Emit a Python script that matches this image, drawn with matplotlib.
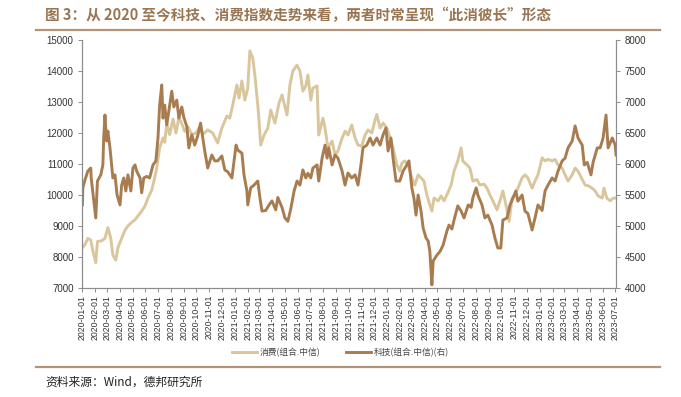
"""
Consumer vs tech index chart (CITIC style indices), 2020-01 to 2023-07.
Consumer is on the left axis, tech on the right axis.
"""
import matplotlib

matplotlib.use("Agg")
import matplotlib.dates as mdates
import matplotlib.pyplot as plt
import pandas as pd
from matplotlib.lines import Line2D

TITLE = "图 3：从 2020 至今科技、消费指数走势来看，两者时常呈现“此消彼长”形态"
SOURCE = "资料来源：Wind，德邦研究所"
CONSUMER_LABEL = "消费(组合.中信)"
TECH_LABEL = "科技(组合.中信)(右)"

LEFT_TICKS = [7000, 8000, 9000, 10000, 11000, 12000, 13000, 14000, 15000]
RIGHT_TICKS = [4000, 4500, 5000, 5500, 6000, 6500, 7000, 7500, 8000]

CONSUMER_DATES = [
    "2020-01-02", "2020-01-08", "2020-01-15", "2020-01-22", "2020-01-27", "2020-02-03",
    "2020-02-07", "2020-02-17", "2020-02-25", "2020-03-03", "2020-03-10", "2020-03-15",
    "2020-03-22", "2020-03-27", "2020-04-05", "2020-04-13", "2020-04-20", "2020-04-30",
    "2020-05-07", "2020-05-14", "2020-05-23", "2020-05-31", "2020-06-07", "2020-06-16",
    "2020-06-23", "2020-06-28", "2020-07-05", "2020-07-13", "2020-07-17", "2020-07-22",
    "2020-07-29", "2020-08-06", "2020-08-13", "2020-08-20", "2020-08-27", "2020-09-03",
    "2020-09-11", "2020-09-20", "2020-09-30", "2020-10-09", "2020-10-16", "2020-10-28",
    "2020-11-09", "2020-11-21", "2020-12-01", "2020-12-13", "2020-12-20", "2020-12-27",
    "2021-01-06", "2021-01-11", "2021-01-18", "2021-01-25", "2021-02-01", "2021-02-06",
    "2021-02-13", "2021-02-18", "2021-02-25", "2021-02-27", "2021-03-04", "2021-03-12",
    "2021-03-21", "2021-03-28", "2021-04-07", "2021-04-17", "2021-04-24", "2021-05-06",
    "2021-05-13", "2021-05-20", "2021-05-30", "2021-06-06", "2021-06-13", "2021-06-20",
    "2021-06-25", "2021-07-02", "2021-07-07", "2021-07-17", "2021-07-21", "2021-07-31",
    "2021-08-05", "2021-08-12", "2021-08-22", "2021-08-29", "2021-09-05", "2021-09-15",
    "2021-09-22", "2021-09-29", "2021-10-08", "2021-10-16", "2021-10-23", "2021-11-01",
    "2021-11-09", "2021-11-16", "2021-11-25", "2021-12-03", "2021-12-07", "2021-12-15",
    "2021-12-22", "2021-12-31", "2022-01-08", "2022-01-15", "2022-01-24", "2022-01-31",
    "2022-02-05", "2022-02-12", "2022-02-20", "2022-03-01", "2022-03-08", "2022-03-16",
    "2022-03-23", "2022-03-30", "2022-04-06", "2022-04-13", "2022-04-18", "2022-04-23",
    "2022-05-03", "2022-05-10", "2022-05-17", "2022-05-26", "2022-06-03", "2022-06-10",
    "2022-06-19", "2022-06-27", "2022-07-01", "2022-07-11", "2022-07-18", "2022-07-25",
    "2022-08-04", "2022-08-11", "2022-08-21", "2022-08-28", "2022-09-04", "2022-09-11",
    "2022-09-21", "2022-09-28", "2022-10-05", "2022-10-12", "2022-10-20", "2022-10-27",
    "2022-11-03", "2022-11-10", "2022-11-20", "2022-11-27", "2022-12-04", "2022-12-14",
    "2022-12-21", "2022-12-28", "2023-01-07", "2023-01-14", "2023-01-21", "2023-01-31",
    "2023-02-07", "2023-02-14", "2023-02-24", "2023-03-03", "2023-03-10", "2023-03-20",
    "2023-03-27", "2023-04-03", "2023-04-13", "2023-04-20", "2023-04-27", "2023-05-07",
    "2023-05-14", "2023-05-21", "2023-05-31", "2023-06-04", "2023-06-11", "2023-06-19",
    "2023-06-26", "2023-07-03",
]
CONSUMER_VALUES = [
    8300, 8400, 8600, 8550, 8200, 7820,
    8500, 8520, 8600, 8950, 8600, 8060,
    7900, 8300, 8600, 8870, 9000, 9130,
    9200, 9320, 9480, 9650, 9900, 10160,
    10550, 10870, 11520, 11840, 11700, 12300,
    11950, 12450, 12000, 12500, 12300, 12050,
    12200, 11950, 12000, 12200, 11950, 12100,
    12000, 11680, 12160, 12550, 12480, 12900,
    13550, 13130, 13680, 13060, 13450, 14650,
    14420, 13870, 12900, 12580, 11610, 11935,
    12160, 12740, 12320, 12970, 13230, 12580,
    13550, 14000, 14190, 14000, 13350, 13520,
    13870, 13060, 13450, 13520, 11935, 12480,
    12160, 11520, 11740, 11290, 11420, 11840,
    12060, 11935, 12260, 11840, 11610, 11580,
    11935, 12100, 12000, 12420, 12600, 12160,
    12320, 12160, 11840, 11520, 10970, 10770,
    11030, 11100, 10970, 10550, 10320, 10650,
    10550, 10450, 10000, 9680, 9480, 9900,
    9810, 9970, 9810, 10065, 10320, 10770,
    11100, 11520, 11100, 10970, 10870, 10450,
    10500, 10320, 10350, 10220, 10000, 9810,
    9520, 9810, 10130, 9700, 9150, 9900,
    10000, 10220, 10550, 10650, 10550, 10220,
    10450, 10650, 11200, 11100, 11150, 11100,
    11150, 10970, 10870, 10650, 10450, 10650,
    10870, 10770, 10500, 10320, 10300, 10220,
    10130, 9970, 9900, 10220, 9900, 9810,
    9900, 9900,
]

TECH_DATES = [
    "2020-01-02", "2020-01-03", "2020-01-08", "2020-01-15", "2020-01-22", "2020-01-23",
    "2020-02-03", "2020-02-07", "2020-02-15", "2020-02-20", "2020-02-22", "2020-02-25",
    "2020-02-29", "2020-03-03", "2020-03-08", "2020-03-12", "2020-03-15", "2020-03-20",
    "2020-03-25", "2020-04-01", "2020-04-05", "2020-04-10", "2020-04-15", "2020-04-20",
    "2020-04-27", "2020-05-02", "2020-05-07", "2020-05-11", "2020-05-19", "2020-05-23",
    "2020-05-28", "2020-06-04", "2020-06-11", "2020-06-19", "2020-06-26", "2020-07-01",
    "2020-07-05", "2020-07-10", "2020-07-13", "2020-07-17", "2020-07-22", "2020-07-29",
    "2020-08-03", "2020-08-08", "2020-08-15", "2020-08-20", "2020-08-27", "2020-09-01",
    "2020-09-08", "2020-09-13", "2020-09-20", "2020-09-27", "2020-10-04", "2020-10-11",
    "2020-10-16", "2020-10-21", "2020-10-28", "2020-11-07", "2020-11-14", "2020-11-21",
    "2020-12-01", "2020-12-08", "2020-12-15", "2020-12-25", "2021-01-04", "2021-01-08",
    "2021-01-18", "2021-01-23", "2021-01-30", "2021-02-01", "2021-02-08", "2021-02-16",
    "2021-02-25", "2021-03-02", "2021-03-07", "2021-03-16", "2021-03-24", "2021-03-31",
    "2021-04-09", "2021-04-14", "2021-04-24", "2021-05-01", "2021-05-08", "2021-05-15",
    "2021-05-23", "2021-05-30", "2021-06-06", "2021-06-13", "2021-06-20", "2021-06-25",
    "2021-07-02", "2021-07-07", "2021-07-17", "2021-07-21", "2021-07-29", "2021-08-05",
    "2021-08-10", "2021-08-14", "2021-08-22", "2021-08-29", "2021-09-05", "2021-09-15",
    "2021-09-22", "2021-09-29", "2021-10-08", "2021-10-16", "2021-10-23", "2021-10-30",
    "2021-11-04", "2021-11-13", "2021-11-21", "2021-11-28", "2021-12-07", "2021-12-15",
    "2021-12-22", "2021-12-29", "2022-01-03", "2022-01-10", "2022-01-15", "2022-01-22",
    "2022-01-31", "2022-02-08", "2022-02-17", "2022-02-22", "2022-03-01", "2022-03-06",
    "2022-03-11", "2022-03-16", "2022-03-23", "2022-03-28", "2022-04-04", "2022-04-09",
    "2022-04-13", "2022-04-18", "2022-04-21", "2022-04-30", "2022-05-08", "2022-05-15",
    "2022-05-24", "2022-05-29", "2022-06-05", "2022-06-10", "2022-06-19", "2022-06-27",
    "2022-07-04", "2022-07-14", "2022-07-21", "2022-07-25", "2022-08-02", "2022-08-06",
    "2022-08-16", "2022-08-23", "2022-08-30", "2022-09-09", "2022-09-16", "2022-09-23",
    "2022-09-30", "2022-10-05", "2022-10-15", "2022-10-22", "2022-10-29", "2022-11-05",
    "2022-11-10", "2022-11-20", "2022-11-27", "2022-12-04", "2022-12-14", "2022-12-21",
    "2022-12-28", "2023-01-07", "2023-01-14", "2023-01-21", "2023-01-31", "2023-02-07",
    "2023-02-14", "2023-02-24", "2023-03-03", "2023-03-10", "2023-03-20", "2023-03-27",
    "2023-04-03", "2023-04-13", "2023-04-18", "2023-04-25", "2023-05-04", "2023-05-09",
    "2023-05-19", "2023-05-26", "2023-06-02", "2023-06-09", "2023-06-14", "2023-06-24",
    "2023-07-01", "2023-07-03",
]
TECH_VALUES = [
    5340, 5615, 5740, 5885, 5935, 5775,
    5130, 5725, 5825, 5985, 6420, 6790,
    6370, 6530, 6260, 5985, 5775, 5825,
    5500, 5340, 5660, 5775, 5565, 5825,
    5565, 5935, 5985, 5885, 5775, 5535,
    5775, 5800, 5775, 5985, 6050, 6420,
    6950, 7275, 6740, 6950, 6630, 6950,
    7175, 6920, 7030, 6740, 6920, 6750,
    6605, 6260, 6470, 6305, 6450, 6660,
    6440, 6210, 5935, 6145, 6050, 6050,
    6130, 5905, 5875, 5775, 6305, 6225,
    6175, 5825, 5565, 5340, 5615, 5660,
    5725, 5460, 5240, 5250, 5340, 5405,
    5260, 5460, 5300, 5130, 5075, 5275,
    5565, 5725, 5660, 5905, 5775, 5850,
    5775, 5935, 5985, 5725, 6095, 6305,
    6095, 6260, 5985, 6145, 6095, 5885,
    5660, 5855, 5775, 5825, 5660, 5985,
    6260, 6305, 6420, 6305, 6420, 6305,
    6470, 6580, 6210, 6420, 6095, 5725,
    5725, 5885, 5985, 6050, 5615, 5450,
    5175, 5500, 5240, 4970, 4805, 4760,
    4595, 4050, 4435, 4530, 4595, 4695,
    4920, 5015, 4950, 5095, 5325, 5240,
    5130, 5340, 5300, 5450, 5615, 5500,
    5340, 5130, 5175, 5015, 4805, 4645,
    4645, 5095, 5130, 5340, 5450, 5565,
    5400, 5500, 5240, 5200, 4935, 5130,
    5340, 5250, 5565, 5660, 5775, 5725,
    5885, 6050, 6095, 6260, 6370, 6615,
    6420, 6305, 5985, 6025, 5825, 6025,
    6260, 6260, 6420, 6790, 6260, 6420,
    6305, 6145,
]

CONSUMER_COLOR = "#dac69c"
TECH_COLOR = "#a97c50"
BRAND_COLOR = "#9a7552"
RULE_COLOR = "#b39476"
AXIS_COLOR = "#8c8c8c"


def main() -> None:
    plt.rcParams["font.family"] = ["Liberation Sans", "Noto Sans CJK SC", "DejaVu Sans"]

    consumer_dates = pd.to_datetime(CONSUMER_DATES)
    tech_dates = pd.to_datetime(TECH_DATES)

    fig = plt.figure(figsize=(6.81, 3.97), dpi=100)
    ax = fig.add_axes([0.1204, 0.2746, 0.7842, 0.6246])
    ax2 = ax.twinx()

    ax.plot(consumer_dates, CONSUMER_VALUES, color=CONSUMER_COLOR, lw=2.1,
            solid_joinstyle="round")
    ax2.plot(tech_dates, TECH_VALUES, color=TECH_COLOR, lw=2.1,
             solid_joinstyle="round")

    ax.set_ylim(LEFT_TICKS[0], LEFT_TICKS[-1])
    ax2.set_ylim(RIGHT_TICKS[0], RIGHT_TICKS[-1])
    ax.set_yticks(LEFT_TICKS)
    ax2.set_yticks(RIGHT_TICKS)
    ax.set_xlim(pd.Timestamp("2020-01-01"), pd.Timestamp("2023-07-03"))

    ax.xaxis.set_major_locator(mdates.MonthLocator(bymonthday=1))
    ax.xaxis.set_major_formatter(mdates.DateFormatter("%Y-%m-%d"))
    plt.setp(ax.get_xticklabels(), rotation=90, ha="center")

    for a in (ax, ax2):
        a.spines["top"].set_visible(False)
        for side in ("left", "right", "bottom"):
            a.spines[side].set_color(AXIS_COLOR)
            a.spines[side].set_linewidth(0.8)
        a.tick_params(axis="both", colors=AXIS_COLOR, labelcolor="#333333",
                      length=3, width=0.7, labelsize=7)
    ax.tick_params(axis="x", labelsize=6.3, pad=2)
    ax.tick_params(axis="y", pad=3)
    ax2.tick_params(axis="y", pad=3)

    handles = [
        Line2D([], [], color=CONSUMER_COLOR, lw=2.1),
        Line2D([], [], color=TECH_COLOR, lw=2.1),
    ]
    fig.legend(handles, [CONSUMER_LABEL, TECH_LABEL], loc="center",
               bbox_to_anchor=(0.5, 0.111), ncol=2, frameon=False,
               prop={"family": ["Noto Sans CJK SC"], "size": 6.3},
               handlelength=2.8, columnspacing=3.0, handletextpad=0.3,
               labelcolor="#444444")

    fig.text(0.066, 0.962, TITLE, fontsize=10.5, fontweight="bold",
             color=BRAND_COLOR, va="center", ha="left",
             family=["Noto Sans CJK SC", "DejaVu Sans"])
    fig.add_artist(Line2D([0.053, 0.969], [0.924, 0.924], color=RULE_COLOR,
                          lw=1.6, transform=fig.transFigure))
    fig.add_artist(Line2D([0.053, 0.969], [0.0756, 0.0756], color=RULE_COLOR,
                          lw=1.6, transform=fig.transFigure))
    fig.text(0.066, 0.038, SOURCE, fontsize=8.5, color="#222222",
             va="center", ha="left",
             family=["Noto Sans CJK SC", "DejaVu Sans"])

    fig.savefig("out.png", dpi=100)
    plt.close(fig)


if __name__ == "__main__":
    main()
